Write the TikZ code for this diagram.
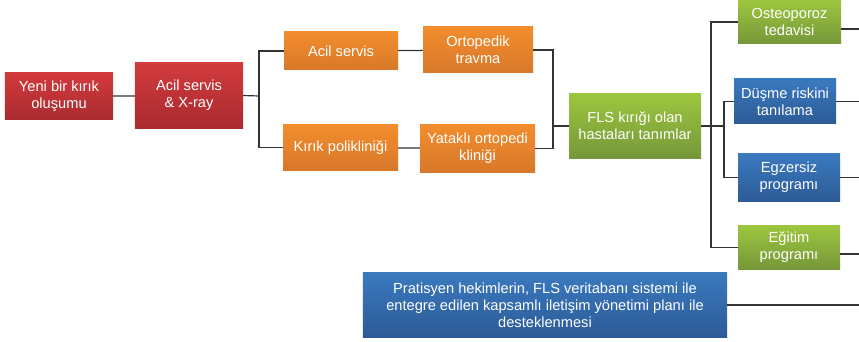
\documentclass[tikz,border=0pt]{standalone}
\usepackage{fontspec}
\setmainfont{Liberation Sans}
\usetikzlibrary{positioning}

\definecolor{redtop}{HTML}{D23A3D}
\definecolor{redbot}{HTML}{A92B2F}
\definecolor{orgtop}{HTML}{F28D2D}
\definecolor{orgbot}{HTML}{D8782A}
\definecolor{grntop}{HTML}{9CC63E}
\definecolor{grnbot}{HTML}{76973A}
\definecolor{blutop}{HTML}{3A79BE}
\definecolor{blubot}{HTML}{2D5B97}
\definecolor{linkgray}{HTML}{333333}

\begin{document}
\begin{tikzpicture}[x=0.03cm,y=-0.03cm,
    box/.style={rectangle,text=white,align=center,inner sep=1pt,
      font=\fontsize{12.5}{14.5}\selectfont},
    redbox/.style={box,top color=redtop,bottom color=redbot},
    orgbox/.style={box,top color=orgtop,bottom color=orgbot},
    grnbox/.style={box,top color=grntop,bottom color=grnbot},
    blubox/.style={box,top color=blutop,bottom color=blubot},
    link/.style={draw=linkgray,line width=1pt}]
  \useasboundingbox (0,0) rectangle (859,342);

  % left part
  \node[redbox,minimum width=3.24cm,minimum height=1.41cm] (yeni) at (59,96.5) {Yeni bir kırık\\oluşumu};
  \node[redbox,minimum width=3.24cm,minimum height=1.95cm] (acil) at (189,95.5) {Acil servis\\\& X-ray};
  \node[orgbox,minimum width=3.42cm,minimum height=1.14cm] (servis) at (341,51) {Acil servis};
  \node[orgbox,minimum width=3.30cm,minimum height=1.38cm] (travma) at (478,50) {Ortopedik\\travma};
  \node[orgbox,minimum width=3.45cm,minimum height=1.35cm] (poli) at (340.5,147.5) {Kırık polikliniği};
  \node[orgbox,minimum width=3.45cm,minimum height=1.41cm] (klinik) at (477.5,148.5) {Yataklı ortopedi\\kliniği};

  % middle and right part
  \node[grnbox,minimum width=3.96cm,minimum height=1.92cm] (fls) at (635,126) {FLS kırığı olan\\hastaları tanımlar};
  \node[grnbox,minimum width=3.09cm,minimum height=1.32cm] (osteo) at (789.5,22) {Osteoporoz\\tedavisi};
  \node[blubox,minimum width=3.06cm,minimum height=1.35cm] (dusme) at (785,101.5) {Düşme riskini\\tanılama};
  \node[blubox,minimum width=3.06cm,minimum height=1.41cm] (egzersiz) at (789,177.5) {Egzersiz\\programı};
  \node[grnbox,minimum width=3.06cm,minimum height=1.29cm] (egitim) at (789,247.5) {Eğitim\\programı};
  \node[blubox,minimum width=10.92cm,minimum height=1.92cm] (pratisyen) at (545,305)
    {Pratisyen hekimlerin, FLS veritabanı sistemi ile\\entegre edilen kapsamlı iletişim yönetimi planı ile\\desteklenmesi};

  \coordinate (s1) at (259,96);
  \coordinate (s2) at (553,126);
  \coordinate (s3) at (711,126);
  \coordinate (s4) at (724,126);
  \coordinate (e1) at (859,29);
  \coordinate (e2) at (859,101.5);
  \coordinate (e3) at (859,177.5);
  \coordinate (e4) at (859,254);
  \coordinate (e5) at (859,305);

  \draw[link] (yeni) -- (acil);
  \draw[link] (acil.east) -- (s1);
  \draw[link] (s1) |- (servis.west);
  \draw[link] (s1) |- (poli.west);
  \draw[link] (servis) -- (travma);
  \draw[link] (poli) -- (klinik);
  \draw[link] (travma.east) -| (s2);
  \draw[link] (klinik.east) -| (s2);
  \draw[link] (s2) -- (fls.west);
  \draw[link] (fls.east) -- (s4);
  \draw[link] (s3) |- (osteo.west);
  \draw[link] (s3) |- (egitim.west);
  \draw[link] (s4) |- (dusme.west);
  \draw[link] (s4) |- (egzersiz.west);
  \draw[link] (osteo.east |- e1) -- (e1);
  \draw[link] (dusme.east) -- (e2);
  \draw[link] (egzersiz.east) -- (e3);
  \draw[link] (egitim.east |- e4) -- (e4);
  \draw[link] (pratisyen.east) -- (e5);
\end{tikzpicture}
\end{document}
